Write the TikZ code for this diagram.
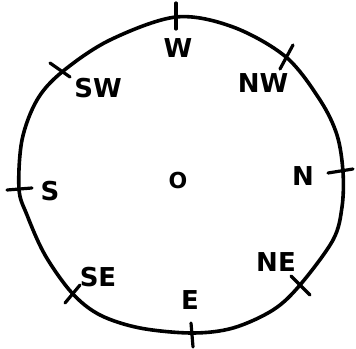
\documentclass[tikz,border=0pt]{standalone}
\usepackage{fontspec}
\setmainfont{DejaVu Sans}
\begin{document}
\begin{tikzpicture}[x=1pt,y=-1pt,
  rim/.style={line width=3.6pt,line join=round,line cap=round},
  tick/.style={line width=3.2pt,line cap=round},
  lab/.style={inner sep=0pt,font=\fontsize{26}{30}\selectfont\bfseries}]
\useasboundingbox (0,0) rectangle (356,348);
% tick points on the rim
\coordinate (tW) at (176,17);
\coordinate (tNW) at (286,57);
\coordinate (tN) at (343,172);
\coordinate (tNE) at (300,285);
\coordinate (tE) at (192,333);
\coordinate (tSE) at (72,293);
\coordinate (tS) at (19,189);
\coordinate (tSW) at (62,72);
% rim
\draw[rim] plot[smooth cycle,tension=0.55] coordinates {
  (176,17) (233,27) (286,57) (320,100) (337,135) (343,172) (342,207) (333,240)
  (300,285) (273,310) (233,328) (192,333) (140,328) (100,315) (72,293)
  (45,255) (27,215) (19,189) (22,140) (37,100) (62,72) (110,40)};
% ticks
\draw[tick] ([yshift=-12]tW) -- ([yshift=14]tW);
\draw[tick] (tNW) ++(7,-12) -- ++(-13,24);
\draw[tick] (tN) ++(-15,1) -- ++(25,-4);
\draw[tick] (tNE) ++(-9,-9) -- ++(19,19);
\draw[tick] (tE) ++(-1,-10) -- ++(2,24);
\draw[tick] (tSE) ++(8,-8) -- ++(-15,18);
\draw[tick] (tS) ++(-12,1) -- ++(25,-2);
\draw[tick] (tSW) ++(-12,-9) -- ++(20,14);
% labels
\node[lab] (W) at (178,48) {W};
\node[lab] (NW) at (263,83) {NW};
\node[lab] (SW) at (98,88) {SW};
\node[lab] (N) at (303,176) {N};
\node[lab] (S) at (50,191) {S};
\node[lab,font=\fontsize{22}{24}\selectfont\bfseries] (O) at (178,180) {O};
\node[lab] (NE) at (276,262) {NE};
\node[lab] (SE) at (98,277) {SE};
\node[lab] (E) at (190,300) {E};
\end{tikzpicture}
\end{document}
